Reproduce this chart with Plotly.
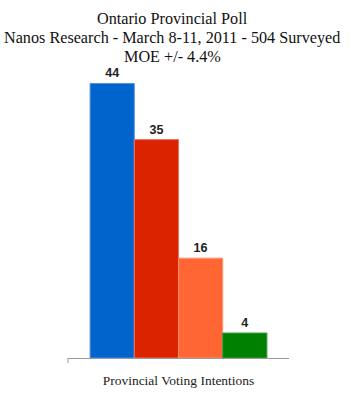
import plotly.graph_objects as go

category = ["Provincial Voting Intentions"]
parties = ["Liberal", "PC", "NDP", "Green"]
values = [44, 35, 16, 4]
colors = ["#0064CD", "#DC2300", "#FF6633", "#008000"]
edge_colors = ["#5A8FE0", "#F07060", "#FF9070", "#3A9A3A"]
title_lines = ["Ontario Provincial Poll",
               "Nanos Research - March 8-11, 2011 - 504 Surveyed",
               "MOE +/- 4.4%"]

fig = go.Figure()
for name, v, c, ec in zip(parties, values, colors, edge_colors):
    fig.add_trace(go.Bar(
        name=name, x=category, y=[v],
        marker=dict(color=c, line=dict(color=ec, width=1)),
        text=[str(v)], texttemplate="<b>%{text}</b>", textposition="outside",
        textfont=dict(family="Liberation Sans, Arial", size=12.5, color="#222222"),
        cliponaxis=False,
    ))

for i, line in enumerate(title_lines):
    fig.add_annotation(
        text=line, xref="paper", yref="paper", x=(172 - 68) / 221, xanchor="center",
        y=1 + (46 - 19 - 19 * i) / 317, yanchor="middle", showarrow=False,
        font=dict(family="Liberation Serif", size=16.2, color="#111111"),
    )

fig.add_shape(type="line", xref="paper", yref="paper", x0=0, x1=0,
              y0=0, y1=-5 / 317, line=dict(color="#999999", width=1))

fig.update_layout(
    width=350, height=400,
    margin=dict(l=68, r=61, t=46, b=37),
    paper_bgcolor="white", plot_bgcolor="white",
    barmode="group", bargap=0.2, bargroupgap=0,
    showlegend=False,
    xaxis=dict(showline=True, linecolor="#999999", linewidth=1, ticks="",
               ticklabelstandoff=10,
               tickfont=dict(family="Liberation Serif", size=13.5, color="#222222"),
               showgrid=False),
    yaxis=dict(range=[0, 50], visible=False, showgrid=False),
)
fig.write_html("out.html")
